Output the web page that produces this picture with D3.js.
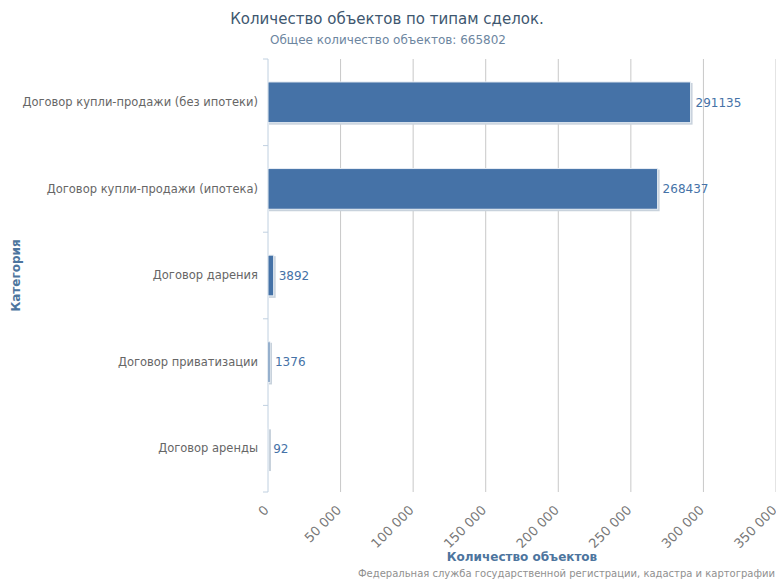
<!DOCTYPE html>
<html>
<head>
<meta charset="utf-8">
<script src="https://cdn.jsdelivr.net/npm/d3@7"></script>
<style>
  body { margin: 0; background: #fff; }
  svg { font-family: "DejaVu Sans", Verdana, sans-serif; }
</style>
</head>
<body>
<div class="chart"></div>
<script>
"use strict";

const categories = [
  "Договор купли-продажи (без ипотеки)",
  "Договор купли-продажи (ипотека)",
  "Договор дарения",
  "Договор приватизации",
  "Договор аренды"
];
const values = [291135, 268437, 3892, 1376, 92];
const xTicks = [0, 50000, 100000, 150000, 200000, 250000, 300000, 350000];

const width = 776;
const height = 580;
const margin = { top: 59, right: 0, bottom: 88, left: 268 };
const innerWidth = width - margin.left - margin.right;
const innerHeight = height - margin.top - margin.bottom;

const data = categories.map((c, i) => ({ name: c, value: values[i] }));

const svg = d3.select(".chart")
  .append("svg")
    .attr("width", width)
    .attr("height", height);

// Title and subtitle
svg.append("text")
  .attr("x", 387).attr("y", 24)
  .attr("text-anchor", "middle")
  .attr("fill", "#3E576F")
  .attr("font-size", 15)
  .text("Количество объектов по типам сделок.");

svg.append("text")
  .attr("x", 388).attr("y", 44)
  .attr("text-anchor", "middle")
  .attr("fill", "#6D869F")
  .attr("font-size", 12)
  .text("Общее количество объектов: 665802");

const inner = svg.append("g")
  .attr("transform", `translate(${margin.left}, ${margin.top})`);

const xScale = d3.scaleLinear()
  .domain([0, 350000])
  .range([0, innerWidth]);

const yScale = d3.scaleBand()
  .domain(categories)
  .range([0, innerHeight]);

// Vertical grid lines
inner.selectAll(".grid")
  .data(xTicks.slice(1))
  .join("line")
    .attr("x1", d => xScale(d))
    .attr("x2", d => xScale(d))
    .attr("y1", 0)
    .attr("y2", innerHeight)
    .attr("stroke", "#C8C8C8")
    .attr("stroke-width", 1);

// X axis labels (rotated)
const xAxis = d3.axisBottom(xScale)
  .tickValues(xTicks)
  .tickSize(0)
  .tickFormat(d => d3.format(",")(d).replace(/,/g, " "));

const gx = inner.append("g")
  .attr("transform", `translate(0, ${innerHeight})`)
  .call(xAxis);
gx.attr("font-family", null).attr("font-size", null);
gx.select(".domain").remove();
gx.selectAll("text")
  .attr("fill", "#777")
  .attr("font-size", 13)
  .attr("text-anchor", "end")
  .attr("dy", null)
  .attr("y", 0)
  .attr("transform", "translate(1, 19) rotate(-45)");

// Y axis
const yAxis = d3.axisLeft(yScale).tickSize(0).tickPadding(10);
const gy = inner.append("g").call(yAxis);
gy.attr("font-family", null).attr("font-size", null);
gy.select(".domain")
  .attr("stroke", "#C0D0E0")
  .attr("d", `M0,0V${innerHeight}`);
gy.selectAll("text")
  .attr("fill", "#666")
  .attr("font-size", 11.5);

// Category separator ticks
inner.selectAll(".sep")
  .data(d3.range(categories.length + 1))
  .join("line")
    .attr("x1", -5)
    .attr("x2", 0)
    .attr("y1", d => d * yScale.bandwidth())
    .attr("y2", d => d * yScale.bandwidth())
    .attr("stroke", "#C0D0E0");

// Bars
const barH = yScale.bandwidth() * 0.47;
const barOffset = (yScale.bandwidth() - barH) / 2;

inner.selectAll(".shadow")
  .data(data)
  .join("rect")
    .attr("x", 1)
    .attr("y", d => yScale(d.name) + barOffset + 1)
    .attr("width", d => Math.max(xScale(d.value), 1) + 1)
    .attr("height", barH + 1)
    .attr("fill", "#C8D2DC");

inner.selectAll(".bar")
  .data(data)
  .join("rect")
    .attr("x", 0)
    .attr("y", d => yScale(d.name) + barOffset)
    .attr("width", d => xScale(d.value))
    .attr("height", barH)
    .attr("fill", "#4572A7")
    .attr("stroke", "#E8EEF4")
    .attr("stroke-width", 1);

// Value labels
inner.selectAll(".label")
  .data(data)
  .join("text")
    .attr("x", d => xScale(d.value) + 5)
    .attr("y", d => yScale(d.name) + yScale.bandwidth() / 2)
    .attr("dy", "0.35em")
    .attr("fill", "#4572A7")
    .attr("font-size", 12)
    .text(d => d.value);

// Axis titles
svg.append("text")
  .attr("transform", `translate(20, ${margin.top + innerHeight / 2}) rotate(-90)`)
  .attr("text-anchor", "middle")
  .attr("fill", "#4D759E")
  .attr("font-size", 12)
  .attr("font-weight", "bold")
  .text("Категория");

svg.append("text")
  .attr("x", margin.left + innerWidth / 2)
  .attr("y", 561)
  .attr("text-anchor", "middle")
  .attr("fill", "#4D759E")
  .attr("font-size", 12)
  .attr("font-weight", "bold")
  .text("Количество объектов");

// Credits
svg.append("text")
  .attr("x", 775)
  .attr("y", 577)
  .attr("text-anchor", "end")
  .attr("fill", "#909090")
  .attr("font-size", 10)
  .text("Федеральная служба государственной регистрации, кадастра и картографии");
</script>
</body>
</html>
